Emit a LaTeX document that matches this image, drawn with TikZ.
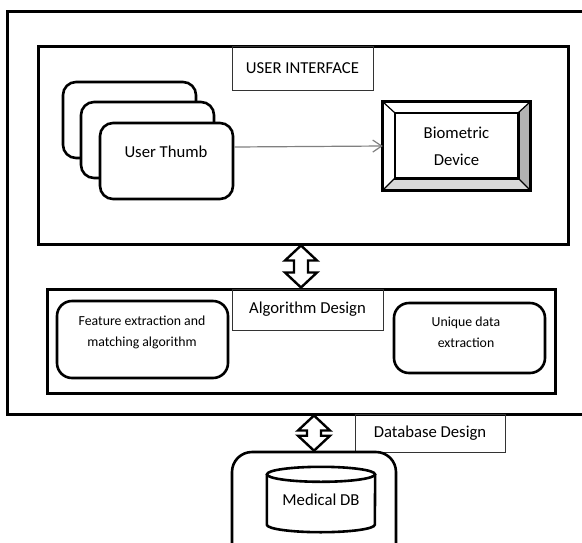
\documentclass[tikz,border=0pt]{standalone}
\usepackage{fontspec}
\setmainfont{Carlito}
\usetikzlibrary{arrows.meta,calc}
\tikzset{
  frame/.style    = {draw,line width=3pt,inner sep=0pt},
  rbox/.style     = {draw,line width=2.6pt,rounded corners=13pt,fill=white,inner sep=0pt},
  tagbox/.style   = {draw=black!80,line width=1pt,inner sep=0pt,font=\fontsize{16.7}{20}\selectfont},
  bigtxt/.style   = {font=\fontsize{16.7}{27}\selectfont,align=center,inner sep=0pt},
  smalltxt/.style = {font=\fontsize{13.8}{21}\selectfont,align=center,inner sep=0pt},
  linkarr/.style  = {-{Straight Barb[length=9pt,width=12pt]},gray,line width=1.2pt},
  fatarr/.style   = {draw,line width=2.4pt,line join=miter,fill=white}
}
% hollow two-headed arrow from tip #1 (top) to tip #2 (bottom)
\newcommand{\fatarrow}[2]{%
  \draw[fatarr] (#1) -- ($(#1)+(16,15)$) -- ($(#1)+(7,15)$)
        -- ($(#2)+(7,-15)$) -- ($(#2)+(16,-15)$) -- (#2)
        -- ($(#2)+(-16,-15)$) -- ($(#2)+(-7,-15)$)
        -- ($(#1)+(-7,15)$) -- ($(#1)+(-16,15)$) -- cycle;
}

\begin{document}
\begin{tikzpicture}[x=1pt,y=-1pt]
  \useasboundingbox (0,0) rectangle (582,542);

  % frames
  \node[frame,minimum width=593pt,minimum height=403pt] (outer) at (303.5,212.5) {};
  \node[frame,minimum width=530pt,minimum height=198pt] (ui)    at (303,145) {};
  \node[frame,minimum width=508pt,minimum height=104pt] (algo)  at (301,341) {};

  % titles
  \node[tagbox,minimum width=141pt,minimum height=44pt] (uilbl)   at (302.5,68)  {USER INTERFACE};
  \node[tagbox,minimum width=151pt,minimum height=41pt] (algolbl) at (307.5,309.5) {Algorithm Design};
  \node[tagbox,minimum width=150pt,minimum height=38pt] (dblbl)   at (430,433)   {Database Design};

  % user thumb stack
  \node[rbox,minimum width=133pt,minimum height=76pt] (back)  at (129.5,120) {};
  \node[rbox,minimum width=133pt,minimum height=76pt] (mid)   at (147.5,140) {};
  \node[rbox,minimum width=133pt,minimum height=76pt] (front) at (166.5,161) {};
  \node[bigtxt] (thumbtxt) at (166,152) {User Thumb};

  % biometric device (bevelled)
  \node[bigtxt,minimum width=147pt,minimum height=88pt] (bio) at (456.5,146) {Biometric\\Device};
  \coordinate (bi1) at ($(bio.north west)+(12,11)$);
  \coordinate (bi2) at ($(bio.north east)+(-12,11)$);
  \coordinate (bi3) at ($(bio.south east)+(-12,-12)$);
  \coordinate (bi4) at ($(bio.south west)+(12,-12)$);
  \fill[gray!60] (bio.north east) -- (bio.south east) -- (bi3) -- (bi2) -- cycle;
  \fill[gray!30] (bio.south west) -- (bio.south east) -- (bi3) -- (bi4) -- cycle;
  \draw[line width=1.2pt] (bio.north west) -- (bi1) (bio.north east) -- (bi2)
        (bio.south east) -- (bi3) (bio.south west) -- (bi4);
  \draw[line width=2.6pt] (bi1) rectangle (bi3);
  \draw[line width=3pt] (bio.north west) rectangle (bio.south east);

  \draw[linkarr] ($(front.east)+(0,-14)$) -- (bio.west);

  % algorithm parts
  \node[rbox,rounded corners=15pt,minimum width=171pt,minimum height=77pt] (feat) at (142.5,339.5) {};
  \node[smalltxt] (feattxt) at (142,332.5) {Feature extraction and\\matching algorithm};
  \node[rbox,rounded corners=15pt,minimum width=151pt,minimum height=70pt] (uniq) at (469.5,338) {};
  \node[smalltxt] (uniqtxt) at (466,332) {Unique data\\extraction};

  % database
  \node[rbox,rounded corners=20pt,minimum width=164pt,minimum height=118pt] (db) at (314,511) {};
  \node[bigtxt,minimum width=108pt,minimum height=65pt] (cyl) at (321,499.5) {Medical DB};
  \draw[line width=2.6pt] ($(cyl.north)+(0,7.5)$) ellipse [x radius=54,y radius=7.5];
  \draw[line width=2.6pt] ($(cyl.north west)+(0,7.5)$) -- ($(cyl.south west)+(0,-7.5)$)
        arc[start angle=180,end angle=0,x radius=54,y radius=7.5]
        -- ($(cyl.north east)+(0,7.5)$);

  % links between layers
  \coordinate (a1) at (ui.south -| algo.north);
  \coordinate (a2) at (outer.south -| db.north);
  \fatarrow{a1}{algo.north}
  \fatarrow{a2}{db.north}
\end{tikzpicture}
\end{document}
